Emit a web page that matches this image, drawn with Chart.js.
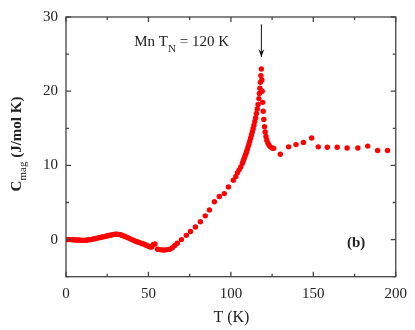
<!DOCTYPE html>
<html>
<head>
<meta charset="utf-8">
<script src="https://cdn.jsdelivr.net/npm/chart.js@4/dist/chart.umd.min.js"></script>
<style>
html,body{margin:0;padding:0;background:#fff;}
#wrap{width:415px;height:330px;position:relative;}
</style>
</head>
<body>
<div id="wrap"><canvas id="c" width="415" height="330"></canvas></div>
<script>
// Temperature (K)
const temps = [1,2,3,4,5,6,7,8,9,10,11,12,13,14,15,16,17,18,19,20,21,22,23,24,25,26,27,28,29,30,31,32,33,34,35,36,37,38,39,40,41,42,43,44,45,46,47,48,49,50,51,52,53,54,
  55.5,57,58.5,60,61.5,63,64.5,66,67.5,70,73,75.5,78.5,81.5,84.5,87,90,93,96,98.5,101.5,
  103,104,105,106,107,107.5,108,108.5,109,109.5,110,110.5,111,111.5,112,112.5,113,113.5,114,114.5,115,115.5,116,116.5,117,117.3,117.6,117.9,118.2,118.5,
  118.8,119,119.3,119.6,120,120.4,120.8,121.3,121.8,122.5,123.2,124,125,126,
  130,135,139.5,144,149,153,158.5,164.5,170.5,177,183,189,195];
// Magnetic specific heat C_mag (J/mol K)
const cmag = [0.0,0.0,0.0,-0.02,-0.03,-0.05,-0.05,-0.05,-0.08,-0.1,-0.1,-0.08,-0.05,-0.03,0.0,0.05,0.1,0.15,0.2,0.25,0.3,0.35,0.4,0.45,0.5,0.55,0.6,0.65,0.7,0.72,0.72,0.7,0.65,0.58,0.5,0.4,0.3,0.2,0.1,0.0,-0.1,-0.2,-0.28,-0.36,-0.44,-0.52,-0.6,-0.7,-0.8,-0.9,-1.0,-1.0,-0.65,-0.6,
  -1.3,-1.35,-1.4,-1.4,-1.35,-1.3,-1.1,-0.8,-0.5,0.0,0.57,1.1,1.7,2.4,3.2,4.0,5.1,5.8,6.2,7.1,8.0,
  8.5,9.0,9.4,9.8,10.3,10.6,10.9,11.2,11.5,11.85,12.2,12.55,12.9,13.3,13.7,14.1,14.5,14.95,15.4,15.9,16.4,17.0,17.6,18.2,19.0,19.7,20.4,21.2,22.1,23.0,
  21.5,20.0,18.5,17.3,16.2,15.2,14.5,13.9,13.4,13.0,12.7,12.5,12.35,12.3,
  11.5,12.5,12.8,13.1,13.7,12.5,12.45,12.45,12.35,12.35,12.6,12.0,12.0];
const xTickLabels = [0,50,100,150,200];
const yTickLabels = [0,10,20,30];

const serif = '"Liberation Serif","DejaVu Serif",serif';
const textColor = '#222';

const framePlugin = {
  id: 'frame',
  afterDraw(chart) {
    const {ctx, chartArea: a, scales: {x, y}} = chart;
    ctx.save();
    ctx.strokeStyle = '#444';
    ctx.lineWidth = 1.3;
    ctx.strokeRect(a.left, a.top, a.right - a.left, a.bottom - a.top);
    ctx.beginPath();
    y.ticks.forEach(t => {
      const p = y.getPixelForValue(t.value);
      const len = (Math.round(t.value) % 10 === 0) ? 5 : 3;
      ctx.moveTo(a.left, p); ctx.lineTo(a.left + len, p);
      ctx.moveTo(a.right, p); ctx.lineTo(a.right - len, p);
    });
    x.ticks.forEach(t => {
      const p = x.getPixelForValue(t.value);
      const len = (Math.round(t.value) % 50 === 0) ? 5 : 3;
      ctx.moveTo(p, a.bottom); ctx.lineTo(p, a.bottom - len);
      ctx.moveTo(p, a.top); ctx.lineTo(p, a.top + len);
    });
    ctx.stroke();

    // Axis titles
    ctx.fillStyle = textColor;
    ctx.font = '16px ' + serif;
    ctx.textAlign = 'center';
    ctx.textBaseline = 'alphabetic';
    ctx.fillText('T (K)', (a.left + a.right) / 2 + 0.5, 322);

    // Y title with subscript
    ctx.save();
    ctx.translate(21, 144);
    ctx.rotate(-Math.PI / 2);
    const mainFont = 'bold 15px ' + serif;
    const subFont = '11px ' + serif;
    ctx.font = mainFont; const w1 = ctx.measureText('C').width;
    ctx.font = subFont; const w2 = ctx.measureText('mag').width;
    ctx.font = mainFont; const w3 = ctx.measureText(' (J/mol K)').width;
    let sx = -(w1 + w2 + w3) / 2;
    ctx.textAlign = 'left';
    ctx.font = mainFont; ctx.fillText('C', sx, 0); sx += w1;
    ctx.font = subFont; ctx.fillText('mag', sx, 5); sx += w2;
    ctx.font = mainFont; ctx.fillText(' (J/mol K)', sx, 0);
    ctx.restore();

    // Annotation: Mn T_N = 120 K
    ctx.textAlign = 'left';
    const tx = x.getPixelForValue(41.4), ty = y.getPixelForValue(26.1);
    const f1 = '15px ' + serif, f2 = '11px ' + serif;
    ctx.font = f1; ctx.fillText('Mn T', tx, ty);
    let ax = tx + ctx.measureText('Mn T').width;
    ctx.font = f2; ctx.fillText('N', ax, ty + 6); ax += ctx.measureText('N').width;
    ctx.font = f1; ctx.fillText(' = 120 K', ax, ty);

    // Arrow
    const arx = x.getPixelForValue(118.5);
    const ay1 = y.getPixelForValue(29.0), ay2 = y.getPixelForValue(24.6);
    ctx.strokeStyle = '#111';
    ctx.lineWidth = 1;
    ctx.beginPath();
    ctx.moveTo(arx, ay1); ctx.lineTo(arx, ay2);
    ctx.stroke();
    ctx.fillStyle = '#111';
    ctx.beginPath();
    ctx.moveTo(arx, ay2); ctx.lineTo(arx - 3, ay2 - 8); ctx.lineTo(arx, ay2 - 5); ctx.lineTo(arx + 3, ay2 - 8); ctx.closePath();
    ctx.fill();

    // (b)
    ctx.fillStyle = textColor;
    ctx.font = 'bold 15px ' + serif;
    ctx.textAlign = 'center';
    ctx.textBaseline = 'middle';
    ctx.fillText('(b)', x.getPixelForValue(176), y.getPixelForValue(-0.5));
    ctx.restore();
  }
};

new Chart(document.getElementById('c'), {
  type: 'scatter',
  data: {
    datasets: [{
      data: temps.map((t, i) => ({x: t, y: cmag[i]})),
      backgroundColor: '#ff0000',
      borderColor: '#ff0000',
      borderWidth: 0,
      pointRadius: 2.7,
      pointHoverRadius: 2.7,
      showLine: false
    }]
  },
  options: {
    responsive: false,
    animation: false,
    layout: {padding: {left: 0, right: 16, top: 14, bottom: 0}},
    plugins: {legend: {display: false}, tooltip: {enabled: false}},
    scales: {
      x: {
        type: 'linear', min: 0, max: 200,
        grid: {display: false, drawTicks: false},
        border: {display: false},
        ticks: {
          stepSize: 25, padding: 8, color: textColor,
          font: {family: serif, size: 15},
          maxRotation: 0, autoSkip: false,
          callback: v => xTickLabels.includes(v) ? String(v) : ''
        },
        afterFit: s => { s.height = 53.3; }
      },
      y: {
        type: 'linear', min: -5, max: 30,
        grid: {display: false, drawTicks: false},
        border: {display: false},
        ticks: {
          stepSize: 5, padding: 8, color: textColor,
          font: {family: serif, size: 15},
          autoSkip: false,
          callback: v => yTickLabels.includes(v) ? String(v) : ''
        },
        afterFit: s => { s.width = 66; }
      }
    }
  },
  plugins: [framePlugin]
});
</script>
</body>
</html>
